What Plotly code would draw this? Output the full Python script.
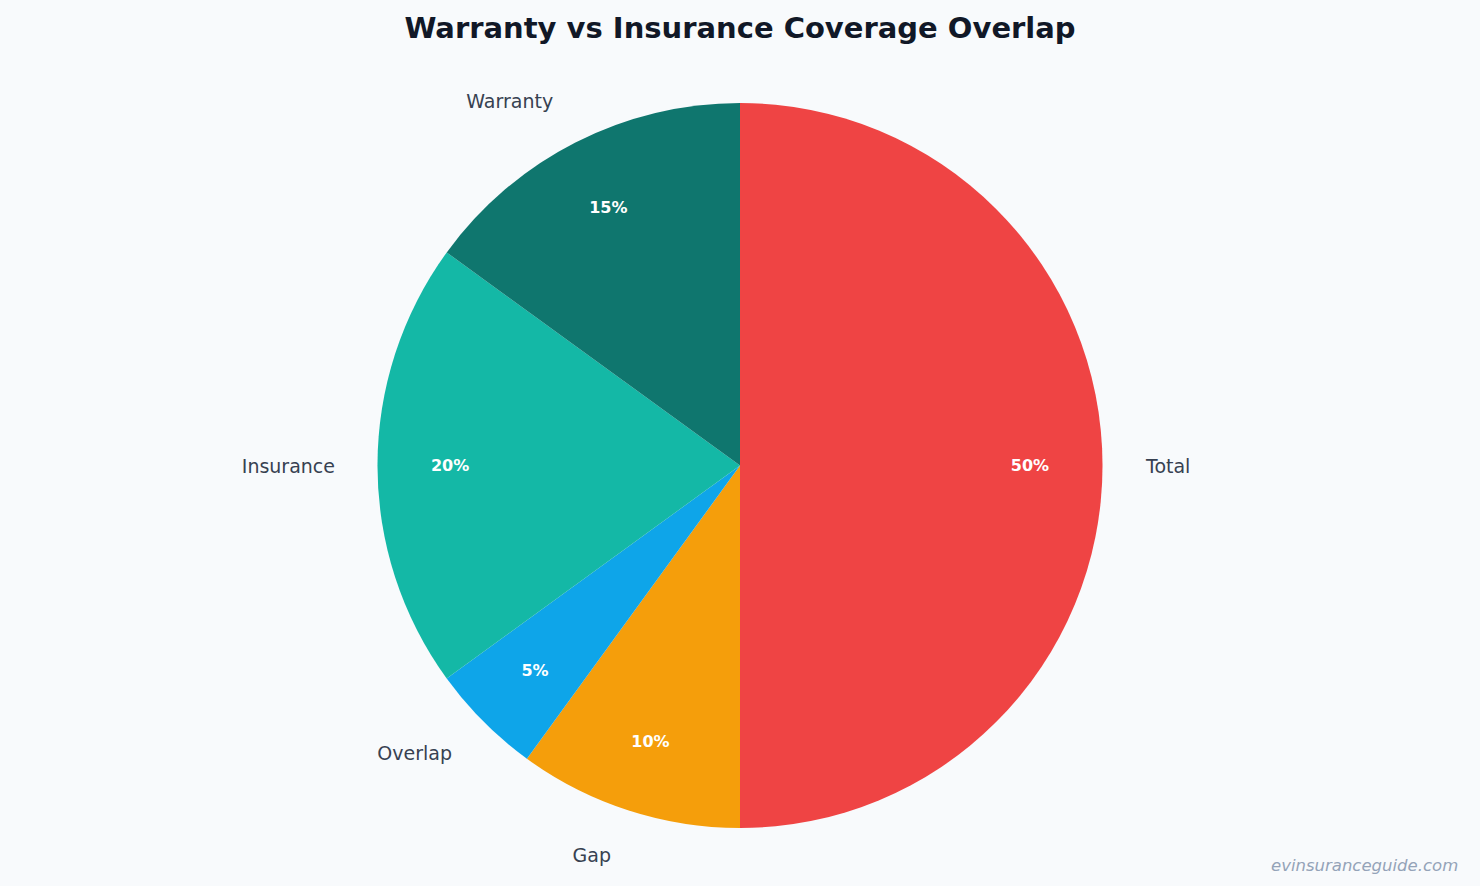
import plotly.graph_objects as go

categories = ["Total", "Gap", "Overlap", "Insurance", "Warranty"]
values = [50, 10, 5, 20, 15]
colors = ["#ef4444", "#f59e0b", "#0ea5e9", "#14b8a6", "#0f766e"]

title_text = "Warranty vs Insurance Coverage Overlap"
watermark = "evinsuranceguide.com"

common = dict(labels=categories, values=values, sort=False, direction="clockwise",
              rotation=0, hoverinfo="skip")

fig = go.Figure()

# outer transparent pie carrying category labels
fig.add_trace(go.Pie(
    **common,
    domain=dict(x=[0, 1], y=[0.0074, 0.9926]),
    marker=dict(colors=["rgba(0,0,0,0)"] * len(values), line=dict(width=0)),
    textinfo="label", textposition="outside",
    outsidetextfont=dict(family="DejaVu Sans", size=19, color="#374151"),
    showlegend=False,
))

# coloured pie
fig.add_trace(go.Pie(
    **common,
    domain=dict(x=[0, 1], y=[0.053, 0.947]),
    marker=dict(colors=colors, line=dict(width=0)),
    textinfo="none",
    showlegend=False,
))

# transparent thin ring carrying percentages
fig.add_trace(go.Pie(
    **common,
    hole=0.818,
    domain=dict(x=[0, 1], y=[0.1067, 0.8933]),
    marker=dict(colors=["rgba(0,0,0,0)"] * len(values), line=dict(width=0)),
    textinfo="percent", textposition="inside", insidetextorientation="horizontal",
    texttemplate="%{percent:.0%}",
    insidetextfont=dict(family="DejaVu Sans", size=16, color="#ffffff", weight="bold"),
    showlegend=False,
))

fig.update_layout(
    width=1480, height=886,
    showlegend=False,
    paper_bgcolor="#f8fafc", plot_bgcolor="#f8fafc",
    margin=dict(l=0, r=0, t=60, b=15, autoexpand=False),
    title=dict(text=f"<b>{title_text}</b>", x=0.5, xanchor="center",
               y=1 - 28 / 886, yref="container", yanchor="middle",
               font=dict(family="DejaVu Sans", size=29, color="#111827")),
    annotations=[dict(text=watermark, xref="paper", yref="paper", x=1, y=0,
                      xanchor="right", yanchor="bottom", xshift=-20, yshift=-6,
                      showarrow=False,
                      font=dict(family="DejaVu Sans", size=16.5, color="#94a3b8", style="italic"))],
)

fig.write_html("out.html")
